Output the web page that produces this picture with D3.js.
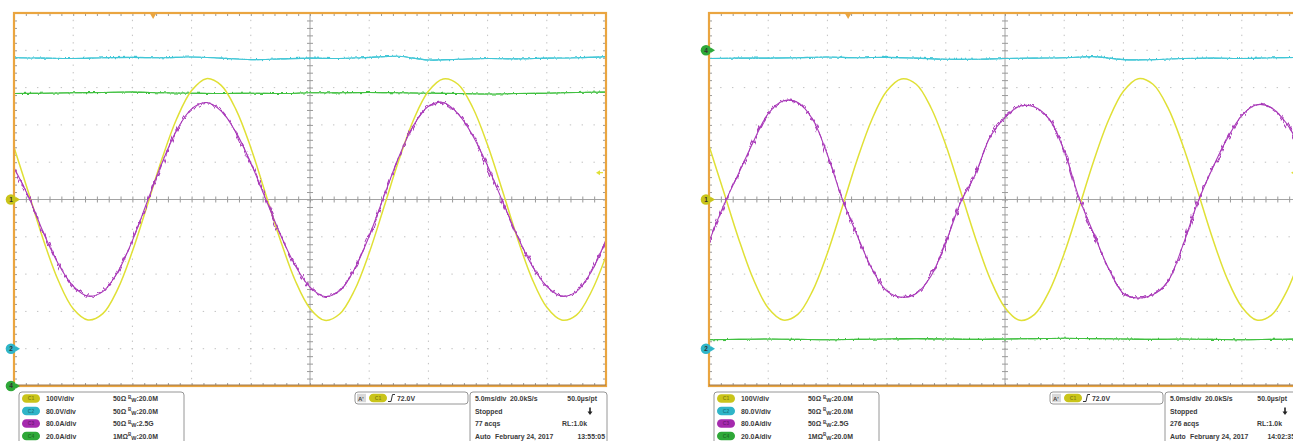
<!DOCTYPE html>
<html>
<head>
<meta charset="utf-8">
<script src="https://cdn.jsdelivr.net/npm/d3@7.9.0/dist/d3.min.js"></script>
<style>
  html, body { margin: 0; padding: 0; background: #fff; overflow: hidden; }
  svg { display: block; font-family: "Liberation Sans", Arial, sans-serif; }
</style>
</head>
<body>
<svg id="chart" width="1293" height="441"></svg>
<script>
// sample times in divisions (5.0 ms/div), centre of screen = 0
const sampleT = [-5, -4.75, -4.5, -4.25, -4, -3.75, -3.5, -3.25, -3, -2.75, -2.5, -2.25, -2, -1.75, -1.5, -1.25,
  -1, -0.75, -0.5, -0.25, 0, 0.25, 0.5, 0.75, 1, 1.25, 1.5, 1.75, 2, 2.25, 2.5, 2.75, 3, 3.25, 3.5, 3.75,
  4, 4.25, 4.5, 4.75, 5];
const slowT = [-5, -4.5, -4, -3.5, -3, -2.5, -2, -1.5, -1, -0.5, 0, 0.5, 1, 1.5, 2, 2.5, 3, 3.5, 4, 4.5, 5];

// screen 1 (13:55:05), values in divisions
const leftC1 = [1.40, 0.16, -1.10, -2.18, -2.93, -3.23, -3.06, -2.41, -1.39, -0.16, 1.09, 2.17, 2.92, 3.24, 3.06, 2.41,
  1.39, 0.15, -1.09, -2.17, -2.92, -3.24, -3.07, -2.44, -1.43, -0.20, 1.05, 2.14, 2.90, 3.23, 3.09, 2.46,
  1.46, 0.24, -1.02, -2.12, -2.89, -3.23, -3.10, -2.48, -1.52];
const leftC3 = [0.85, 0.06, -0.90, -1.73, -2.32, -2.59, -2.47, -1.95, -1.10, -0.06, 0.98, 1.86, 2.43, 2.60, 2.37, 1.80,
  0.98, 0.02, -0.94, -1.77, -2.35, -2.60, -2.45, -1.87, -0.98, 0.09, 1.14, 1.99, 2.50, 2.60, 2.30, 1.71,
  0.90, -0.04, -0.97, -1.77, -2.33, -2.59, -2.47, -1.94, -1.08];
const leftC2 = [3.80, 3.79, 3.78, 3.80, 3.81, 3.80, 3.82, 3.79, 3.75, 3.77, 3.79, 3.78, 3.81, 3.84, 3.74, 3.76,
  3.78, 3.77, 3.79, 3.80, 3.83];
const leftC4 = [2.84, 2.85, 2.86, 2.87, 2.88, 2.86, 2.85, 2.84, 2.85, 2.84, 2.86, 2.86, 2.87, 2.86, 2.85, 2.84,
  2.83, 2.84, 2.85, 2.87, 2.88];

// screen 2 (14:02)
const rightC1 = [1.44, 0.20, -1.05, -2.14, -2.91, -3.23, -3.08, -2.45, -1.44, -0.21, 1.05, 2.14, 2.90, 3.23, 3.09, 2.46,
  1.46, 0.22, -1.03, -2.13, -2.90, -3.24, -3.08, -2.45, -1.45, -0.22, 1.04, 2.13, 2.90, 3.24, 3.09, 2.47,
  1.47, 0.25, -1.01, -2.11, -2.88, -3.23, -3.10, -2.49, -1.50];
const rightC3 = [-1.13, -0.15, 0.70, 1.55, 2.30, 2.64, 2.60, 2.15, 1.20, 0.02, -0.95, -1.85, -2.45, -2.62, -2.52, -2.05,
  -1.15, -0.08, 0.68, 1.68, 2.20, 2.50, 2.48, 2.15, 1.30, 0.05, -0.92, -1.85, -2.52, -2.64, -2.55, -2.20,
  -1.25, -0.10, 0.82, 1.62, 2.25, 2.54, 2.46, 2.05, 1.35];
const rightC2 = [3.78, 3.79, 3.79, 3.80, 3.82, 3.80, 3.81, 3.79, 3.76, 3.76, 3.78, 3.79, 3.80, 3.83, 3.75, 3.75,
  3.78, 3.79, 3.78, 3.80, 3.81];
const rightC4 = [-3.76, -3.75, -3.74, -3.75, -3.76, -3.75, -3.74, -3.73, -3.74, -3.75, -3.74, -3.73, -3.72, -3.73,
  -3.74, -3.75, -3.74, -3.75, -3.76, -3.75, -3.74];

// channel markers: [label, offset in div]
const leftMarkers = [['1', 0], ['2', -4], ['4', -5]];
const rightMarkers = [['4', 4], ['1', 0], ['2', -4]];

// readout text
const chNames = ['C1', 'C2', 'C3', 'C4'];
const chScale = ['100V/div', '80.0V/div', '80.0A/div', '20.0A/div'];
const chTerm = ['50Ω', '50Ω', '50Ω', '1MΩ'];
const chBw = [':20.0M', ':20.0M', ':2.5G', ':20.0M'];
const trigLevel = '72.0V';
const trigPos = -2.65;      // div
const trigLevelDiv = 0.72;  // div
const timeRow = ['5.0ms/div', '20.0kS/s', '50.0µs/pt'];
const acqs = ['77 acqs', '276 acqs'];
const clock = ['13:55:05', '14:02:35'];
const dateText = 'February 24, 2017';

const chColors = ['#e0e036', '#40c6d6', '#a93ab9', '#40c040'];
const pillColors = ['#c9c41a', '#2fb5c8', '#a52aae', '#2fa838'];
const orange = '#eaa540';

const W = 1293, H = 441;
const panelW = 592, plotTop = 13, plotBottom = 386;

const svg = d3.select('#chart');
const defs = svg.append('defs');

function fuzz(id, freq, scale, seed) {
  const f = defs.append('filter').attr('id', id)
    .attr('filterUnits', 'userSpaceOnUse')
    .attr('x', 0).attr('y', 0).attr('width', W).attr('height', H);
  f.append('feTurbulence').attr('type', 'fractalNoise')
    .attr('baseFrequency', freq).attr('numOctaves', 1).attr('seed', seed).attr('result', 'n');
  f.append('feDisplacementMap').attr('in', 'SourceGraphic').attr('in2', 'n')
    .attr('scale', scale).attr('xChannelSelector', 'R').attr('yChannelSelector', 'G');
}
fuzz('fuzzM', '0.4 0.06', 8, 4);
fuzz('fuzzC', '0.45 0.08', 3.5, 7);

function pill(g, x, y, i) {
  g.append('rect').attr('x', x).attr('y', y - 4.3).attr('width', 18).attr('height', 8.6)
    .attr('rx', 4.3).attr('fill', pillColors[i]);
  g.append('text').attr('x', x + 9).attr('y', y + 1.8).attr('text-anchor', 'middle')
    .attr('font-size', 5).attr('font-weight', 'bold').attr('fill', 'rgba(0,0,0,0.35)').text(chNames[i]);
}

function txt(g, x, y, s, anchor) {
  return g.append('text').attr('x', x).attr('y', y)
    .attr('text-anchor', anchor || 'start')
    .attr('font-size', 6.9).attr('font-weight', 'bold').attr('fill', '#3a3a3a').text(s);
}

function drawPanel(idx, px0, traces, markers, rightPad) {
  const g = svg.append('g');
  const x = d3.scaleLinear().domain([-5, 5]).range([px0, px0 + panelW]);
  const y = d3.scaleLinear().domain([-5, 5]).range([plotBottom, plotTop]);
  const minor = d3.range(-50, 51, 2).map(v => v / 10);
  const minorPx = panelW / 50, minorPy = (plotBottom - plotTop) / 50;

  const clipId = 'clip' + idx;
  defs.append('clipPath').attr('id', clipId)
    .append('rect').attr('x', px0).attr('y', plotTop).attr('width', panelW).attr('height', plotBottom - plotTop);

  // dotted graticule
  const grid = g.append('g').attr('stroke', '#c0c0c0').attr('stroke-width', 1);
  for (let k = -4; k <= 4; k++) {
    if (k === 0) continue;
    grid.append('line').attr('x1', x(-5)).attr('x2', x(5)).attr('y1', y(k)).attr('y2', y(k))
      .attr('stroke-dasharray', `1.4 ${minorPx - 1.4}`).attr('stroke-dashoffset', 0.7);
    grid.append('line').attr('y1', y(5)).attr('y2', y(-5)).attr('x1', x(k)).attr('x2', x(k))
      .attr('stroke-dasharray', `1.4 ${minorPy - 1.4}`).attr('stroke-dashoffset', 0.7);
  }

  // centre crosshair with ticks
  const tickStyle = s => {
    s.select('.domain').remove();
    s.selectAll('line').attr('stroke', '#9a9a9a');
  };
  g.append('line').attr('x1', x(-5)).attr('x2', x(5)).attr('y1', y(0)).attr('y2', y(0)).attr('stroke', '#a4a4a4');
  g.append('line').attr('x1', x(0)).attr('x2', x(0)).attr('y1', y(5)).attr('y2', y(-5)).attr('stroke', '#a4a4a4');
  g.append('g').attr('transform', `translate(0,${y(0)})`)
    .call(d3.axisTop(x).tickValues(minor).tickSize(3).tickFormat('')).call(tickStyle);
  g.append('g').attr('transform', `translate(0,${y(0)})`)
    .call(d3.axisBottom(x).tickValues(minor).tickSize(3).tickFormat('')).call(tickStyle);
  g.append('g').attr('transform', `translate(${x(0)},0)`)
    .call(d3.axisLeft(y).tickValues(minor).tickSize(3).tickFormat('')).call(tickStyle);
  g.append('g').attr('transform', `translate(${x(0)},0)`)
    .call(d3.axisRight(y).tickValues(minor).tickSize(3).tickFormat('')).call(tickStyle);

  // border ticks
  g.append('g').attr('transform', `translate(0,${plotTop})`)
    .call(d3.axisBottom(x).tickValues(minor).tickSize(3).tickFormat('')).call(tickStyle);
  g.append('g').attr('transform', `translate(0,${plotBottom})`)
    .call(d3.axisTop(x).tickValues(minor).tickSize(3).tickFormat('')).call(tickStyle);
  g.append('g').attr('transform', `translate(${px0},0)`)
    .call(d3.axisRight(y).tickValues(minor).tickSize(3).tickFormat('')).call(tickStyle);
  g.append('g').attr('transform', `translate(${px0 + panelW},0)`)
    .call(d3.axisLeft(y).tickValues(minor).tickSize(3).tickFormat('')).call(tickStyle);

  // traces
  const line = d3.line().x(d => x(d[0])).y(d => y(d[1])).curve(d3.curveCatmullRom.alpha(0.5));
  const tg = g.append('g').attr('clip-path', `url(#${clipId})`).attr('fill', 'none');
  for (const [vals, ci] of [[traces.c2, 1], [traces.c4, 3]]) {
    const d = line(d3.zip(slowT, vals));
    tg.append('path').attr('d', d).attr('stroke', chColors[ci]).attr('stroke-width', 1.1);
    tg.append('path').attr('d', d).attr('stroke', chColors[ci]).attr('stroke-width', 1.1)
      .attr('filter', 'url(#fuzzC)');
  }
  tg.append('path').attr('d', line(d3.zip(sampleT, traces.c1)))
    .attr('stroke', chColors[0]).attr('stroke-width', 1.5);
  const dm = line(d3.zip(sampleT, traces.c3));
  tg.append('path').attr('d', dm).attr('stroke', chColors[2]).attr('stroke-width', 1.1);
  tg.append('path').attr('d', dm).attr('stroke', chColors[2]).attr('stroke-width', 1.2)
    .attr('filter', 'url(#fuzzM)');

  // frame
  g.append('rect').attr('x', px0).attr('y', plotTop).attr('width', panelW).attr('height', plotBottom - plotTop)
    .attr('fill', 'none').attr('stroke', orange).attr('stroke-width', 2.2);
  g.append('line').attr('x1', px0).attr('x2', px0 + panelW).attr('y1', plotBottom - 1).attr('y2', plotBottom - 1)
    .attr('stroke', '#8c6a4a').attr('stroke-width', 0.8);

  // trigger position and level
  const tx = x(trigPos);
  g.append('path').attr('d', `M${tx - 4},${plotTop - 1}L${tx + 4},${plotTop - 1}L${tx},${plotTop + 6}Z`).attr('fill', orange);
  const ly = y(trigLevelDiv), rx = px0 + panelW;
  g.append('path').attr('d', `M${rx - 10},${ly}L${rx - 6},${ly - 2.5}L${rx - 6},${ly + 2.5}Z`).attr('fill', chColors[0]);
  g.append('line').attr('x1', rx - 7).attr('x2', rx - 3).attr('y1', ly).attr('y2', ly)
    .attr('stroke', chColors[0]).attr('stroke-width', 1.2);

  // channel ground markers
  for (const [lab, off] of markers) {
    const ci = lab === '1' ? 0 : lab === '2' ? 1 : lab === '3' ? 2 : 3;
    const my = y(off), mx = px0 - 3;
    g.append('path').attr('d', `M${mx + 5},${my - 2.5}L${mx + 9},${my}L${mx + 5},${my + 2.5}Z`).attr('fill', pillColors[ci]);
    g.append('circle').attr('cx', mx).attr('cy', my).attr('r', 5.3).attr('fill', pillColors[ci]);
    g.append('text').attr('x', mx).attr('y', my + 2.3).attr('text-anchor', 'middle')
      .attr('font-size', 6.5).attr('font-weight', 'bold').attr('fill', '#333').text(lab);
  }

  // readout: channel box
  const rows = [401, 413.5, 426, 438.5];
  const info = g.append('g');
  info.append('rect').attr('x', px0 + 5).attr('y', 392).attr('width', 165).attr('height', 60)
    .attr('rx', 3).attr('fill', '#fff').attr('stroke', '#8a8a8a').attr('stroke-width', 0.9);
  chNames.forEach((c, i) => {
    pill(info, px0 + 8, rows[i] - 2.5, i);
    txt(info, px0 + 32, rows[i], chScale[i]);
    txt(info, px0 + 99, rows[i], chTerm[i]);
    const t = txt(info, px0 + 114, rows[i], '');
    t.append('tspan').attr('font-size', 4.5).attr('dy', -2.2).text('B');
    t.append('tspan').attr('font-size', 5.5).attr('dy', 3.2).text('W');
    t.append('tspan').attr('dy', -1).text(chBw[i]);
  });

  // trigger box
  info.append('rect').attr('x', px0 + 341).attr('y', 392).attr('width', 113).attr('height', 12)
    .attr('rx', 3).attr('fill', '#fff').attr('stroke', '#8a8a8a').attr('stroke-width', 0.9);
  info.append('rect').attr('x', px0 + 343).attr('y', 393.8).attr('width', 9).attr('height', 8.4)
    .attr('fill', '#d8d8d8');
  info.append('text').attr('x', px0 + 344).attr('y', 400.6).attr('font-size', 6).attr('font-weight', 'bold')
    .attr('fill', '#444').text("A'");
  pill(info, px0 + 355, 398, 0);
  info.append('path').attr('d', `M${px0 + 374},${401.5}L${px0 + 377},${401.5}L${px0 + 378.5},${394.5}L${px0 + 381},${394.5}`)
    .attr('fill', 'none').attr('stroke', '#333').attr('stroke-width', 1);
  txt(info, px0 + 383, 401, trigLevel);

  // timebase box
  const bx = px0 + 456;
  info.append('rect').attr('x', bx).attr('y', 392).attr('width', 137).attr('height', 60)
    .attr('rx', 3).attr('fill', '#fff').attr('stroke', '#8a8a8a').attr('stroke-width', 0.9);
  txt(info, bx + 5, rows[0], timeRow[0]);
  txt(info, bx + 40, rows[0], timeRow[1]);
  txt(info, bx + 127 - rightPad, rows[0], timeRow[2], 'end');
  txt(info, bx + 5, rows[1], 'Stopped');
  info.append('path').attr('d', `M${bx + 120},${rows[1] - 6}L${bx + 120},${rows[1] - 1}`)
    .attr('stroke', '#222').attr('stroke-width', 1.6);
  info.append('path').attr('d', `M${bx + 117.5},${rows[1] - 2}L${bx + 122.5},${rows[1] - 2}L${bx + 120},${rows[1] + 1.5}Z`)
    .attr('fill', '#222');
  txt(info, bx + 5, rows[2], acqs[idx]);
  txt(info, bx + 117, rows[2], 'RL:1.0k', 'end');
  txt(info, bx + 5, rows[3], 'Auto');
  txt(info, bx + 25, rows[3], dateText);
  txt(info, bx + 135 - rightPad, rows[3], clock[idx], 'end');
}

drawPanel(0, 14, { c1: leftC1, c2: leftC2, c3: leftC3, c4: leftC4 }, leftMarkers, 0);
drawPanel(1, 709, { c1: rightC1, c2: rightC2, c3: rightC3, c4: rightC4 }, rightMarkers, 5);
</script>
</body>
</html>
